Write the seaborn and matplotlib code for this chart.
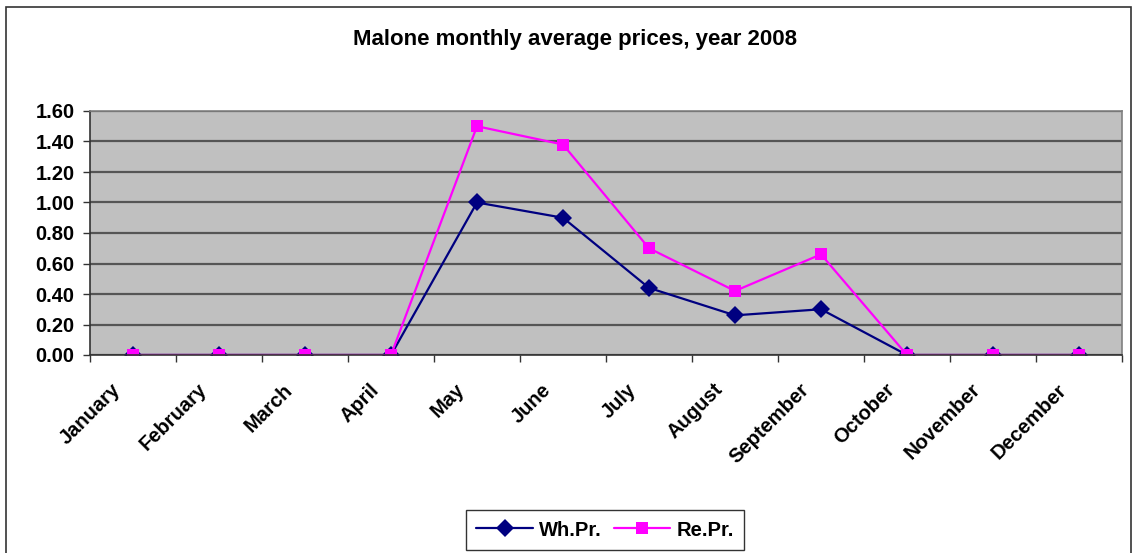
import matplotlib
matplotlib.use("Agg")
import matplotlib.pyplot as plt
import seaborn as sns
import pandas as pd
from matplotlib.patches import Rectangle
from matplotlib.lines import Line2D

months = ["January", "February", "March", "April", "May", "June", "July",
          "August", "September", "October", "November", "December"]
wh_pr = [0.00, 0.00, 0.00, 0.00, 1.00, 0.90, 0.44, 0.26, 0.30, 0.00, 0.00, 0.00]
re_pr = [0.00, 0.00, 0.00, 0.00, 1.50, 1.38, 0.70, 0.42, 0.66, 0.00, 0.00, 0.00]
y_ticks = [0.00, 0.20, 0.40, 0.60, 0.80, 1.00, 1.20, 1.40, 1.60]
title = "Malone monthly average prices, year 2008"

sns.set_theme(style="white")
plt.rcParams["font.family"] = ["Liberation Sans", "DejaVu Sans"]
plt.rcParams["text.color"] = "black"
plt.rcParams["xtick.color"] = "black"
plt.rcParams["ytick.color"] = "black"

df = pd.DataFrame({
    "idx": list(range(len(months))) * 2,
    "value": wh_pr + re_pr,
    "series": ["Wh.Pr."] * len(months) + ["Re.Pr."] * len(months),
})

fig = plt.figure(figsize=(11.37, 5.53), dpi=100)
ax = fig.add_axes([90 / 1137, 1 - 355 / 553, (1122 - 90) / 1137, (355 - 111) / 553])
ax.set_facecolor("#C0C0C0")

sns.lineplot(data=df, x="idx", y="value", hue="series", style="series",
             palette={"Wh.Pr.": "#000080", "Re.Pr.": "#FF00FF"},
             markers={"Wh.Pr.": "D", "Re.Pr.": "s"}, dashes=False,
             markersize=9, linewidth=1.6, markeredgewidth=0, ax=ax, legend=False)

ax.set_xlim(-0.5, len(months) - 0.5)
ax.set_ylim(0, 1.6)
ax.set_yticks(y_ticks)
ax.set_yticklabels([f"{v:.2f}" for v in y_ticks], fontsize=14.5, fontweight="bold")
ax.yaxis.grid(True, color="#555555", linewidth=1.6)
ax.set_axisbelow(True)
ax.set_xticks([])
for i, m in enumerate(months):
    ax.annotate(m, xy=(i, 0), xycoords=("data", "axes fraction"),
                xytext=(-22, -25), textcoords="offset pixels",
                rotation=45, ha="right", va="top", rotation_mode="anchor",
                fontsize=14.5, fontweight="bold", annotation_clip=False)
ax.set_xticks([i - 0.5 for i in range(len(months) + 1)], minor=True)
ax.tick_params(axis="x", which="minor", length=5, width=1, color="#333333", direction="out", bottom=True)
ax.tick_params(axis="y", length=5, width=1, color="#333333", direction="out", left=True, pad=6)
ax.set_xlabel("")
ax.set_ylabel("")
for s in ["top", "right"]:
    ax.spines[s].set_color("#808080")
    ax.spines[s].set_linewidth(1.2)
for s in ["left", "bottom"]:
    ax.spines[s].set_color("#333333")
    ax.spines[s].set_linewidth(1.2)

fig.text(575 / 1137, 1 - 40 / 553, title, ha="center", va="center",
         fontsize=16, fontweight="bold")

fig.patches.append(Rectangle((6 / 1137, -0.05), (1131 - 6) / 1137, 1.05 - 7 / 553,
                             transform=fig.transFigure, fill=False,
                             edgecolor="#333333", linewidth=1.2))

handles = [Line2D([], [], color="#000080", marker="D", markersize=9, markeredgewidth=0, linewidth=1.6),
           Line2D([], [], color="#FF00FF", marker="s", markersize=9, markeredgewidth=0, linewidth=1.6)]
leg = fig.legend(handles, ["Wh.Pr.", "Re.Pr."], loc="center",
                 bbox_to_anchor=(605 / 1137, 1 - 530 / 553), ncol=2,
                 prop={"size": 14.5, "weight": "bold"}, frameon=True, fancybox=False,
                 edgecolor="black", handlelength=2.8, columnspacing=0.6, handletextpad=0.3,
                 borderpad=0.5)
leg.get_frame().set_linewidth(1.0)

fig.savefig("out.png", dpi=100, facecolor="white")
